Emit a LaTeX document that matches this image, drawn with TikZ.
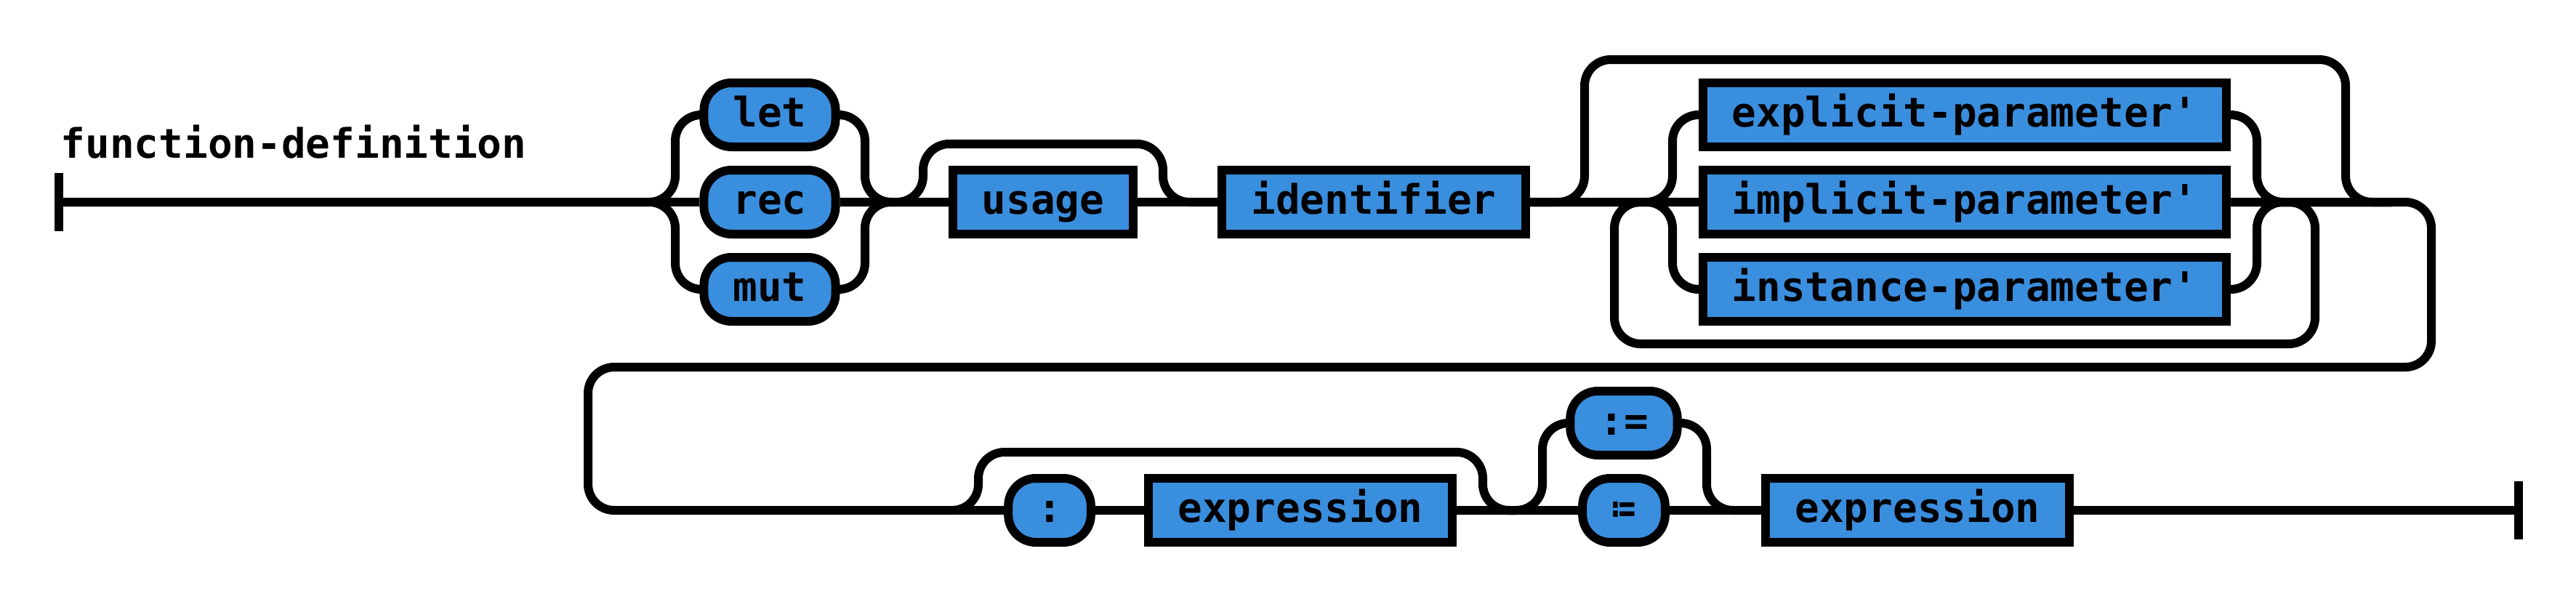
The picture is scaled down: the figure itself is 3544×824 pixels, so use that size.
\documentclass[tikz,border=0pt]{standalone}
\usepackage{fontspec}
\setmonofont{DejaVu Sans Mono}
\definecolor{railblue}{RGB}{58,142,222}
\begin{document}
\begin{tikzpicture}[x=0.25pt, y=-0.25pt,
    every node/.style={font=\ttfamily\bfseries\fontsize{14pt}{16pt}\selectfont},
    rail/.style={line width=3pt, rounded corners=9pt},
    term/.style={draw, line width=3pt, fill=railblue, rounded corners=9.5pt,
      minimum height=22pt, inner xsep=10pt, inner ysep=0pt, text height=10pt, text depth=2pt},
    nonterm/.style={term, rounded corners=0pt}]
    \useasboundingbox (0,0) rectangle (3544,824);
    \node[anchor=base west, inner sep=0pt] (title) at (83,217) {function-definition};
    % first row
    \coordinate (start) at (81,278);
    \foreach \n/\y in {let/158,rec/278,mut/398}
      \node[term] (\n) at (1059,\y) {\n};
    \node[nonterm] (usage) at (1435,278) {usage};
    \node[nonterm] (ident) at (1890,278) {identifier};
    \foreach \n/\y in {explicit/158,implicit/278,instance/398}
      \node[nonterm] (\n) at (2703,\y) {\n-parameter'};
    \coordinate (c1l) at (929,278);
    \coordinate (c1r) at (1190,278);
    \coordinate (o1l) at (1270,198);
    \coordinate (o1r) at (1600,198);
    \coordinate (b2l) at (2180,82);
    \coordinate (b2r) at (3227,82);
    \coordinate (l2l) at (2221,473);
    \coordinate (l2r) at (3185,473);
    \coordinate (c2l) at (2301,278);
    \coordinate (c2r) at (3105,278);
    \coordinate (rowend) at (3290,278);
    % wrap to second row
    \coordinate (w1) at (3345,278);
    \coordinate (w2) at (3345,505);
    \coordinate (w3) at (809,505);
    \coordinate (w4) at (809,702);
    \coordinate (row2) at (860,702);
    \draw[line width=3pt] (start) ++(0,-40) -- ++(0,80);
    \draw[rail] (start) -- (rec.west);
    \foreach \n in {let,mut} {
      \draw[rail] (start) -| (c1l |- \n.west) -- (\n.west);
      \draw[rail] (\n.east) -| (c1r) -- (usage.west);
    }
    \draw[rail] (rec.east) -- (usage.west);
    \draw[rail] (rec.east) -| (o1l) -- (o1r) |- (ident.west);
    \draw[rail] (usage.east) -- (ident.west);
    \draw[rail] (ident.east) -| (b2l) -- (b2r) |- (rowend);
    \draw[rail] (ident.east) -- (implicit.west);
    \draw[rail] (implicit.east) -| (l2r) -- (l2l) |- (implicit.west);
    \foreach \n in {explicit,instance} {
      \draw[rail] (ident.east) -| (c2l |- \n.west) -- (\n.west);
      \draw[rail] (\n.east) -| (c2r) -- (rowend);
    }
    \draw[rail] (implicit.east) -- (w1) -- (w2) -- (w3) -- (w4) -- (row2);
    % second row
    \node[term] (colon) at (1444,702) {:};
    \node[nonterm] (expr) at (1789,702) {expression};
    \node[term] (assign) at (2234,582) {:=};
    \node[term] (defeq) at (2234,702) {≔};
    \node[nonterm] (value) at (2638,702) {expression};
    \coordinate (o3l) at (1346,622);
    \coordinate (o3r) at (2040,622);
    \coordinate (c4l) at (2122,702);
    \coordinate (c4r) at (2348,702);
    \coordinate (end) at (3465,702);
    \draw[rail] (row2) -- (colon.west);
    \draw[rail] (row2) -| (o3l) -- (o3r) |- (defeq.west);
    \draw[rail] (colon.east) -- (expr.west);
    \draw[rail] (expr.east) -- (defeq.west);
    \draw[rail] (expr.east) -| (c4l |- assign.west) -- (assign.west);
    \draw[rail] (assign.east) -| (c4r) -- (value.west);
    \draw[rail] (defeq.east) -- (value.west);
    \draw[rail] (value.east) -- (end);
    \draw[line width=3pt] (end) ++(0,-40) -- ++(0,80);
\end{tikzpicture}
\end{document}
